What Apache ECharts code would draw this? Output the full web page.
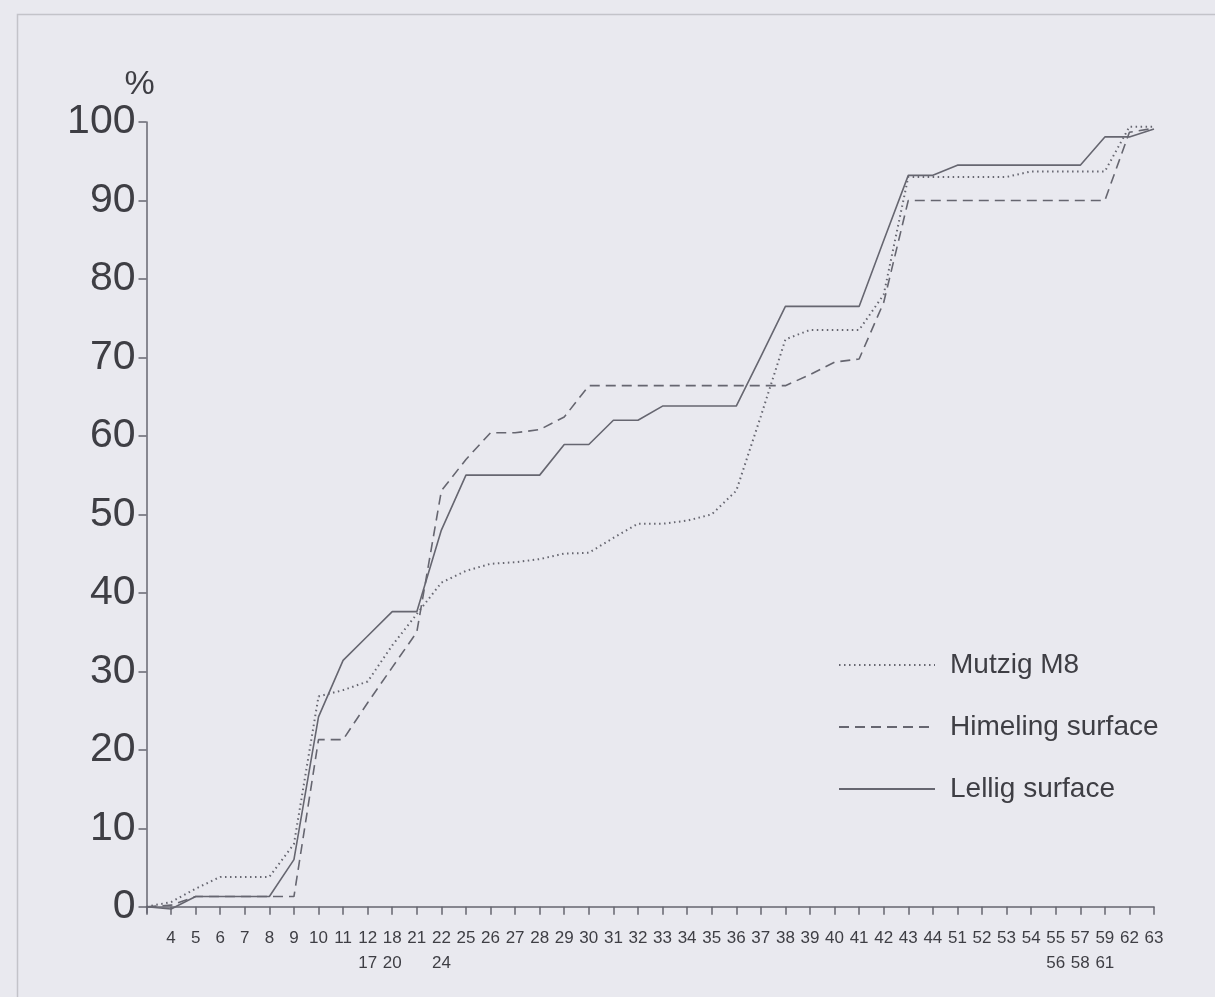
<!DOCTYPE html>
<html>
<head>
<meta charset="utf-8">
<script src="https://cdn.jsdelivr.net/npm/echarts@6/dist/echarts.min.js"></script>
<style>
html,body{margin:0;padding:0;background:#e9e9ef;}
#chart{width:1215px;height:997px;}
</style>
</head>
<body>
<div id="chart"></div>
<script>
var categories = ['', '4','5','6','7','8','9','10','11','12\n17','18\n20','21','22\n24','25','26','27','28','29','30','31','32','33','34','35','36','37','38','39','40','41','42','43','44','51','52','53','54','55\n56','57\n58','59\n61','62','63'];
var yTicks = [0,10,20,30,40,50,60,70,80,90,100];
var mutzig = [0,0.6,2.3,3.8,3.8,3.8,8,26.8,27.6,28.7,33.3,37.3,41.3,42.8,43.7,43.9,44.3,45,45.1,47,48.8,48.8,49.2,50,53,62.5,72.3,73.5,73.5,73.5,78,93,93,93,93,93,93.7,93.7,93.7,93.7,99.4,99.4];
var himeling = [0,0.2,1.3,1.3,1.3,1.3,1.3,21.3,21.3,26,30.5,35,53,57,60.4,60.4,60.8,62.4,66.4,66.4,66.4,66.4,66.4,66.4,66.4,66.4,66.4,67.8,69.4,69.8,77,90,90,90,90,90,90,90,90,90,98.7,99.2];
var lellig = [0,-0.3,1.3,1.3,1.3,1.3,6,24.2,31.4,34.5,37.6,37.6,48,55,55,55,55,58.9,58.9,62,62,63.8,63.8,63.8,63.8,70.1,76.5,76.5,76.5,76.5,84.9,93.2,93.2,94.5,94.5,94.5,94.5,94.5,94.5,98.1,98.1,99.1];

var FONT = "'Liberation Sans Narrow','Liberation Sans',Arial,sans-serif";
var LINE = '#666670';
var TXT = '#3e3e44';

var chart = echarts.init(document.getElementById('chart'), null, {renderer:'canvas'});
chart.setOption({
  backgroundColor: '#e9e9ef',
  animation: false,
  graphic: [{
    type: 'rect', left: 15, top: 12, silent: true, z: -10,
    shape: {width: 1260, height: 1060},
    style: {fill: 'none', stroke: '#c3c3c9', lineWidth: 1.5}
  }],
  grid: {left: 146.5, right: 61, top: 122, bottom: 84},
  legend: {
    orient: 'vertical',
    left: 838, top: 651,
    padding: 0,
    itemWidth: 96, itemHeight: 12, itemGap: 34,
    itemStyle: {opacity: 0},
    textStyle: {fontFamily: FONT, fontSize: 28, color: TXT, padding: [0,0,0,10]},
    data: ['Mutzig M8','Himeling surface','Lellig surface']
  },
  xAxis: {
    type: 'category',
    data: categories,
    boundaryGap: false,
    axisLine: {lineStyle: {color: LINE, width: 1.5}},
    axisTick: {interval: 0, length: 8, lineStyle: {color: LINE, width: 1.5}},
    axisLabel: {interval: 0, fontFamily: FONT, fontSize: 17, color: TXT, margin: 13, lineHeight: 25}
  },
  yAxis: {
    type: 'value',
    min: -0.8, max: 100,
    name: '%',
    nameLocation: 'end',
    nameGap: 14,
    nameTextStyle: {fontFamily: FONT, fontSize: 34, color: TXT, padding: [0,14,0,0]},
    splitLine: {show: false},
    axisLine: {show: true, lineStyle: {color: LINE, width: 1.5}},
    axisTick: {show: true, length: 8, customValues: yTicks, lineStyle: {color: LINE, width: 1.5}},
    axisLabel: {customValues: yTicks, fontFamily: FONT, fontSize: 41, color: TXT, margin: 11}
  },
  series: [
    {name: 'Mutzig M8', type: 'line', data: mutzig, symbol: 'none',
     lineStyle: {color: LINE, width: 2, type: [1.5, 3.5]}, itemStyle: {color: LINE}},
    {name: 'Himeling surface', type: 'line', data: himeling, symbol: 'none',
     lineStyle: {color: LINE, width: 1.6, type: [10, 6]}, itemStyle: {color: LINE}},
    {name: 'Lellig surface', type: 'line', data: lellig, symbol: 'none',
     lineStyle: {color: LINE, width: 1.6, type: 'solid'}, itemStyle: {color: LINE}}
  ]
});
</script>
</body>
</html>
